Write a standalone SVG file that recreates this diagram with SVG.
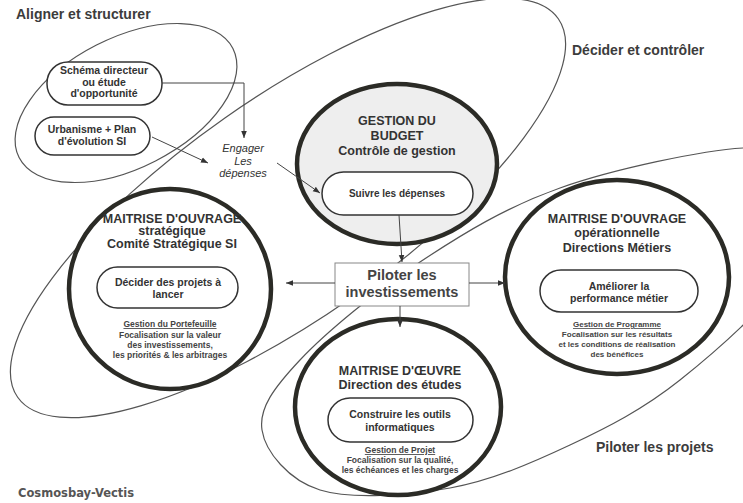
<svg xmlns="http://www.w3.org/2000/svg" width="743" height="503" viewBox="0 0 743 503">
<defs>
<marker id="arr" viewBox="0 0 10 10" refX="10" refY="5" markerWidth="7" markerHeight="7" orient="auto" markerUnits="userSpaceOnUse"><path d="M0,1 L10,5 L0,9 z" fill="#333"/></marker>
</defs>
<style>
.t{font-family:"Liberation Sans",Arial,sans-serif;font-weight:bold;fill:#333;text-anchor:middle}
.h{font-size:12.5px}
.p{font-size:10.5px}
.n{font-size:8.5px;fill:#444}
.u{text-decoration:underline}
.title{font-family:"Liberation Sans",Arial,sans-serif;font-weight:bold;font-size:14px;fill:#3c3c3c}
.big{stroke:#2b2b26;stroke-width:4.5;fill:#fff}
.pill{stroke:#333;stroke-width:1.5;fill:#fff}
.zone{fill:none;stroke:#555;stroke-width:1.2}
.con{fill:none;stroke:#444;stroke-width:1;marker-end:url(#arr)}
</style>
<rect width="743" height="503" fill="#fff"/>

<g id="zones">
<ellipse class="zone" cx="126" cy="103" rx="120" ry="65" transform="rotate(-27 126 103)"/>
<ellipse class="zone" cx="288" cy="208" rx="330" ry="110" transform="rotate(-35 288 208)"/>
<path class="zone" d="M262,430 C258.7,408.3 273.7,388 300,360 C326.3,332 376.7,290.7 420,262 C463.3,233.3 506.2,207 560,188 C613.8,169 703,150.2 743,148 C783,145.8 792.2,154.7 800,175 C807.8,195.3 810,235.8 790,270 C770,304.2 716.7,350.8 680,380 C643.3,409.2 608.3,427 570,445 C531.7,463 491.7,480.5 450,488 C408.3,495.5 351.3,499.7 320,490 C288.7,480.3 265.3,451.7 262,430 Z"/>
</g>

<g id="titles">
<text class="title" x="16" y="19">Aligner et structurer</text>
<text class="title" x="572" y="55">Décider et contrôler</text>
<text class="title" x="596" y="452">Piloter les projets</text>
<text x="18" y="497" style="font-family:'DejaVu Sans',Verdana,sans-serif;font-weight:bold;font-size:11.5px;fill:#555">Cosmosbay-Vectis</text>
</g>

<g id="schema">
<rect class="pill" x="47" y="62" width="115" height="43" rx="21"/>
<text class="t p" x="104"><tspan x="104" y="74">Schéma directeur</tspan><tspan x="104" y="85.5">ou étude</tspan><tspan x="104" y="97">d'opportunité</tspan></text>
</g>

<g id="urbanisme">
<rect class="pill" x="35" y="117" width="115" height="38" rx="19"/>
<text class="t p" x="92"><tspan x="92" y="133">Urbanisme + Plan</tspan><tspan x="92" y="145">d'évolution SI</tspan></text>
</g>

<g id="engager">
<text x="243" style="font-family:'Liberation Sans',Arial,sans-serif;font-style:italic;font-size:11px;fill:#333;text-anchor:middle"><tspan x="243" y="152">Engager</tspan><tspan x="243" y="164.5">Les</tspan><tspan x="243" y="177">dépenses</tspan></text>
</g>

<g id="budget">
<ellipse class="big" cx="397" cy="164" rx="100" ry="80" style="fill:#eeeeee"/>
<text class="t h"><tspan x="397" y="125">GESTION DU</tspan><tspan x="397" y="140">BUDGET</tspan><tspan x="397" y="155">Contrôle de gestion</tspan></text>
<rect class="pill" x="322" y="172" width="151" height="43" rx="21.5"/>
<text class="t" x="397" y="197" style="font-size:10px">Suivre les dépenses</text>
</g>

<g id="moa-strategique">
<ellipse class="big" cx="170" cy="289" rx="101" ry="100"/>
<text class="t h"><tspan x="172" y="222.5">MAITRISE D'OUVRAGE</tspan><tspan x="172" y="235">stratégique</tspan><tspan x="172" y="248">Comité Stratégique SI</tspan></text>
<rect class="pill" x="97" y="267" width="141" height="41" rx="20.5"/>
<text class="t p"><tspan x="168" y="286">Décider des projets à</tspan><tspan x="168" y="298">lancer</tspan></text>
<text class="t n"><tspan class="u" x="170" y="327">Gestion du Portefeuille</tspan><tspan x="170" y="337.5">Focalisation sur la valeur</tspan><tspan x="170" y="347.5">des investissements,</tspan><tspan x="170" y="357.5">les priorités &amp; les arbitrages</tspan></text>
</g>

<g id="moa-operationnelle">
<ellipse class="big" cx="617" cy="277" rx="112" ry="97"/>
<text class="t h"><tspan x="617" y="223">MAITRISE D'OUVRAGE</tspan><tspan x="617" y="237">opérationnelle</tspan><tspan x="617" y="252">Directions Métiers</tspan></text>
<rect class="pill" x="540" y="270" width="158" height="42" rx="21"/>
<text class="t p"><tspan x="619" y="290">Améliorer la</tspan><tspan x="619" y="302">performance métier</tspan></text>
<text class="t n" style="font-size:8px"><tspan class="u" x="617" y="327">Gestion de Programme</tspan><tspan x="617" y="337">Focalisation  sur les résultats</tspan><tspan x="617" y="347">et les conditions de réalisation</tspan><tspan x="617" y="357">des bénéfices</tspan></text>
</g>

<g id="moe">
<ellipse class="big" cx="398" cy="407" rx="103" ry="88"/>
<text class="t h"><tspan x="400" y="375">MAITRISE D'ŒUVRE</tspan><tspan x="400" y="389">Direction des études</tspan></text>
<rect class="pill" x="328" y="398" width="145" height="44" rx="22"/>
<text class="t p"><tspan x="400" y="418">Construire les outils</tspan><tspan x="400" y="431">informatiques</tspan></text>
<text class="t n"><tspan class="u" x="400" y="453">Gestion de Projet</tspan><tspan x="400" y="463">Focalisation sur la qualité,</tspan><tspan x="400" y="473">les échéances et les charges</tspan></text>
</g>

<g id="piloter">
<rect x="335" y="263" width="134" height="43" fill="#fff" stroke="#888" stroke-width="1"/>
<text class="t" style="font-size:14.5px;fill:#444"><tspan x="402" y="280">Piloter les</tspan><tspan x="402" y="297">investissements</tspan></text>
</g>

<g id="connectors">
<path class="con" d="M162,83 H244 V138"/>
<path class="con" d="M152,137 L208,163"/>
<path class="con" d="M277,163 L320,193"/>
<path class="con" d="M399,215 L402,262"/>
<path class="con" d="M335,283 L286,283"/>
<path class="con" d="M469,283 L505,283"/>
<path class="con" d="M400,306 L400,327"/>
</g>
</svg>
